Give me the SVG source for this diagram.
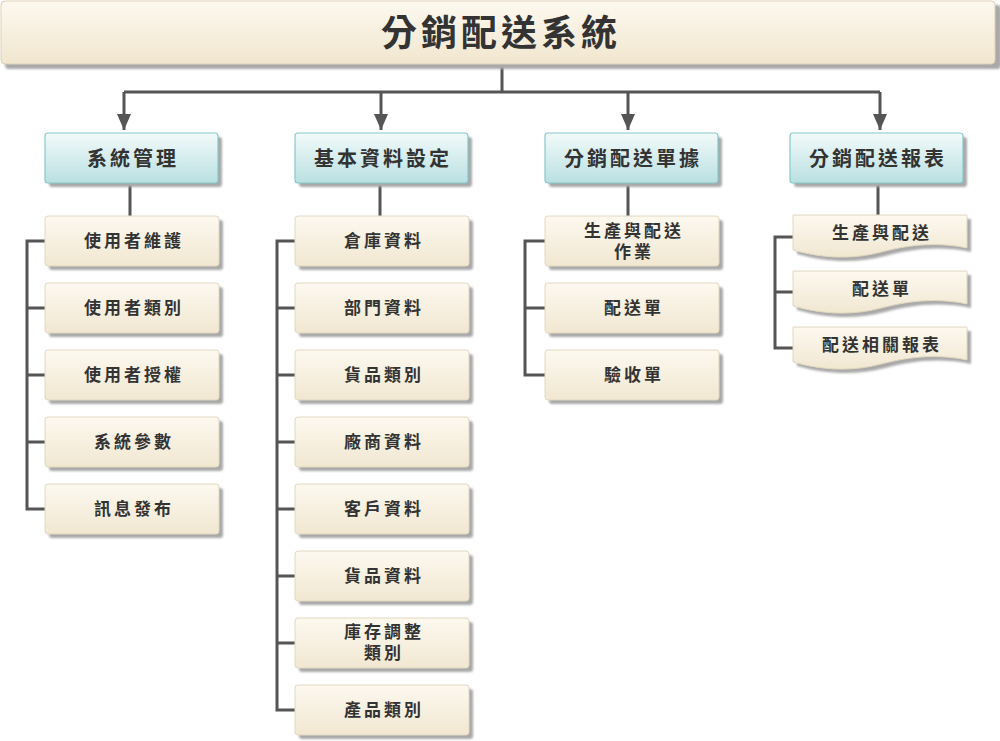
<svg xmlns="http://www.w3.org/2000/svg" width="1000" height="741" viewBox="0 0 1000 741">
<defs>
<linearGradient id="gItem" x1="0" y1="0" x2="0" y2="1"><stop offset="0" stop-color="#fdf9f0"/><stop offset="1" stop-color="#f1e7d1"/></linearGradient>
<linearGradient id="gCat" x1="0" y1="0" x2="0" y2="1"><stop offset="0" stop-color="#f3fafa"/><stop offset="1" stop-color="#b9e0e1"/></linearGradient>
<linearGradient id="gTop" x1="0" y1="0" x2="0" y2="1"><stop offset="0" stop-color="#fdf9ef"/><stop offset="1" stop-color="#f1e6cf"/></linearGradient>
<filter id="sh" x="-5%" y="-20%" width="115%" height="150%"><feGaussianBlur stdDeviation="1.2"/></filter>
<marker id="arr" viewBox="0 0 14 16" refX="7" refY="16" markerWidth="14" markerHeight="16" markerUnits="userSpaceOnUse" orient="0"><path d="M0,0 L14,0 L7,16 Z" fill="#555"/></marker>
<rect id="item" x="0" y="0" width="174" height="50" rx="3"/>
<path id="doc" d="M0,0 H174 V33 C140,26 112,31 88,37 C58,45 28,43 0,35 Z"/>
</defs>
<style>
.shadow{fill:#a9a9a9;filter:url(#sh)}
.item{fill:url(#gItem);stroke:#e2d8c0;stroke-width:1}
.cat{fill:url(#gCat);stroke:#86c8ca;stroke-width:1.2}
.top{fill:url(#gTop);stroke:#ddd1b6;stroke-width:1}
text{font-family:"Noto Sans CJK TC","Noto Sans CJK SC",sans-serif;font-weight:bold;fill:#333;text-anchor:middle}
.t1{font-size:36px;letter-spacing:4px}
.t2{font-size:20px;letter-spacing:3px}
.t3{font-size:17px;letter-spacing:3px}
.ln{stroke:#555;stroke-width:3;fill:none}
</style>

<g id="connectors">
<path class="ln" d="M502,64 V92 M124,92 H880"/>
<line class="ln" x1="124" y1="92" x2="124" y2="130" marker-end="url(#arr)"/>
<line class="ln" x1="381" y1="92" x2="381" y2="130" marker-end="url(#arr)"/>
<line class="ln" x1="628" y1="92" x2="628" y2="130" marker-end="url(#arr)"/>
<line class="ln" x1="880" y1="92" x2="880" y2="130" marker-end="url(#arr)"/>
<path class="ln" d="M130,183 V216 M45,241 H27 V509 H45 M27,308 H45 M27,375 H45 M27,442 H45"/>
<path class="ln" d="M380,183 V216 M295,241 H277 V710 H295 M277,308 H295 M277,375 H295 M277,442 H295 M277,509 H295 M277,576 H295 M277,643 H295"/>
<path class="ln" d="M628,183 V216 M545,241 H525 V375 H545 M525,308 H545"/>
<path class="ln" d="M878,183 V215 M793,237 H775 V348 H793 M775,292 H793"/>
</g>

<g id="root">
<rect class="shadow" x="5" y="5" width="996" height="64" rx="4"/>
<rect class="top" x="1" y="1" width="994" height="63" rx="4"/>
<text class="t1" x="501" y="46">分銷配送系統</text>
</g>

<g id="cat1"><rect class="shadow" x="49" y="137" width="173" height="50" rx="3"/><rect class="cat" x="45" y="133" width="173" height="50" rx="3"/><text class="t2" x="133" y="166">系統管理</text></g>
<g id="cat2"><rect class="shadow" x="299" y="137" width="173" height="50" rx="3"/><rect class="cat" x="295" y="133" width="173" height="50" rx="3"/><text class="t2" x="383" y="166">基本資料設定</text></g>
<g id="cat3"><rect class="shadow" x="549" y="137" width="173" height="50" rx="3"/><rect class="cat" x="545" y="133" width="173" height="50" rx="3"/><text class="t2" x="633" y="166">分銷配送單據</text></g>
<g id="cat4"><rect class="shadow" x="794" y="137" width="173" height="50" rx="3"/><rect class="cat" x="790" y="133" width="173" height="50" rx="3"/><text class="t2" x="878" y="166">分銷配送報表</text></g>

<!-- column 1 -->
<g id="c1i1"><use href="#item" class="shadow" x="49" y="220"/><use href="#item" class="item" x="45" y="216"/><text class="t3" x="134" y="247">使用者維護</text></g>
<g id="c1i2"><use href="#item" class="shadow" x="49" y="287"/><use href="#item" class="item" x="45" y="283"/><text class="t3" x="134" y="314">使用者類別</text></g>
<g id="c1i3"><use href="#item" class="shadow" x="49" y="354"/><use href="#item" class="item" x="45" y="350"/><text class="t3" x="134" y="381">使用者授權</text></g>
<g id="c1i4"><use href="#item" class="shadow" x="49" y="421"/><use href="#item" class="item" x="45" y="417"/><text class="t3" x="134" y="448">系統參數</text></g>
<g id="c1i5"><use href="#item" class="shadow" x="49" y="488"/><use href="#item" class="item" x="45" y="484"/><text class="t3" x="134" y="515">訊息發布</text></g>

<!-- column 2 -->
<g id="c2i1"><use href="#item" class="shadow" x="299" y="220"/><use href="#item" class="item" x="295" y="216"/><text class="t3" x="384" y="247">倉庫資料</text></g>
<g id="c2i2"><use href="#item" class="shadow" x="299" y="287"/><use href="#item" class="item" x="295" y="283"/><text class="t3" x="384" y="314">部門資料</text></g>
<g id="c2i3"><use href="#item" class="shadow" x="299" y="354"/><use href="#item" class="item" x="295" y="350"/><text class="t3" x="384" y="381">貨品類別</text></g>
<g id="c2i4"><use href="#item" class="shadow" x="299" y="421"/><use href="#item" class="item" x="295" y="417"/><text class="t3" x="384" y="448">廠商資料</text></g>
<g id="c2i5"><use href="#item" class="shadow" x="299" y="488"/><use href="#item" class="item" x="295" y="484"/><text class="t3" x="384" y="515">客戶資料</text></g>
<g id="c2i6"><use href="#item" class="shadow" x="299" y="555"/><use href="#item" class="item" x="295" y="551"/><text class="t3" x="384" y="582">貨品資料</text></g>
<g id="c2i7"><use href="#item" class="shadow" x="299" y="622"/><use href="#item" class="item" x="295" y="618"/><text class="t3" x="384" y="638">庫存調整</text><text class="t3" x="384" y="659">類別</text></g>
<g id="c2i8"><use href="#item" class="shadow" x="299" y="689"/><use href="#item" class="item" x="295" y="685"/><text class="t3" x="384" y="716">產品類別</text></g>

<!-- column 3 -->
<g id="c3i1"><use href="#item" class="shadow" x="549" y="220"/><use href="#item" class="item" x="545" y="216"/><text class="t3" x="634" y="237">生產與配送</text><text class="t3" x="634" y="258">作業</text></g>
<g id="c3i2"><use href="#item" class="shadow" x="549" y="287"/><use href="#item" class="item" x="545" y="283"/><text class="t3" x="634" y="314">配送單</text></g>
<g id="c3i3"><use href="#item" class="shadow" x="549" y="354"/><use href="#item" class="item" x="545" y="350"/><text class="t3" x="634" y="381">驗收單</text></g>

<!-- column 4 -->
<g id="c4i1"><use href="#doc" class="shadow" x="797" y="219"/><use href="#doc" class="item" x="793" y="215"/><text class="t3" x="882" y="239">生產與配送</text></g>
<g id="c4i2"><use href="#doc" class="shadow" x="797" y="275"/><use href="#doc" class="item" x="793" y="271"/><text class="t3" x="882" y="295">配送單</text></g>
<g id="c4i3"><use href="#doc" class="shadow" x="797" y="331"/><use href="#doc" class="item" x="793" y="327"/><text class="t3" x="882" y="351">配送相關報表</text></g>
</svg>
